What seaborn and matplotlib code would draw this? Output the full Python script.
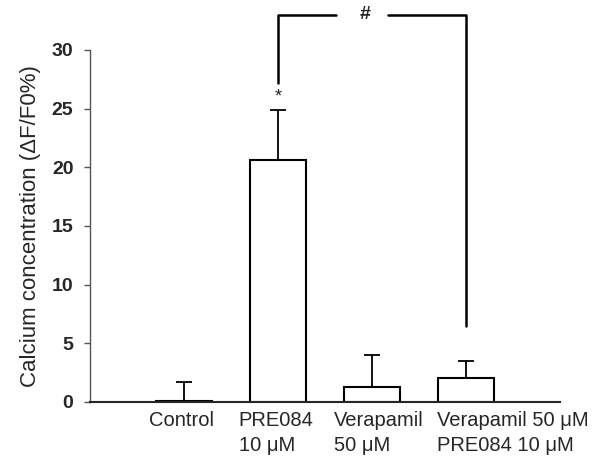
import numpy as np
import pandas as pd
import matplotlib.pyplot as plt
import seaborn as sns

# values
groups = ['Control', 'PRE084\n10 μM', 'Verapamil\n50 μM', 'Verapamil 50 μM\nPRE084 10 μM']
means = [0.1, 20.6, 1.3, 2.0]
errors = [1.6, 4.3, 2.7, 1.5]
y_ticks = [0, 5, 10, 15, 20, 25, 30]

df = pd.DataFrame({'Group': groups, 'Mean': means})

sns.set_style('ticks')
plt.rcParams['font.family'] = ['Liberation Sans', 'DejaVu Sans']

fig = plt.figure(figsize=(6.13, 4.62), dpi=100)
ax = fig.add_axes([0.147, 0.13, 0.766, 0.762])

sns.barplot(data=df, x='Group', y='Mean', color='white', edgecolor='black',
            linewidth=1.5, width=0.6, ax=ax)
xs = np.arange(len(groups))
ax.errorbar(xs, means, yerr=[np.zeros(len(errors)), errors], fmt='none',
            ecolor='black', elinewidth=1.3, capsize=6, capthick=1.3)

ax.set_xlim(-1, 4)
ax.set_ylim(0, 30)
ax.set_yticks(y_ticks)
ax.set_yticklabels([str(t) for t in y_ticks], fontweight='bold', fontsize=14)
ax.set_xticks([])
ax.set_xlabel('')
ax.set_ylabel('Calcium concentration (ΔF/F0%)', fontsize=16, labelpad=8)
sns.despine(ax=ax, top=True, right=True)
ax.spines['left'].set_color('#555555')
ax.spines['left'].set_linewidth(1.0)
ax.spines['bottom'].set_linewidth(1.5)
ax.tick_params(axis='y', length=4, width=1, color='#555555', pad=8)

# category labels under the axis
offsets = [-0.03, -0.02, 0.07]
for i, lab in enumerate(groups):
    if i < 3:
        ax.text(xs[i] + offsets[i], -0.8, lab, ha='center', va='top',
                multialignment='left', fontsize=14.5, linespacing=1.4)
    else:
        ax.text(xs[i] - 0.31, -0.8, lab, ha='left', va='top',
                multialignment='left', fontsize=14.5, linespacing=1.4)

# significance markers
ax.text(1, 25.3, '*', ha='center', va='bottom', fontsize=13)
br_y = 33.0
ax.plot([1, 1, 1.62], [27.2, br_y, br_y], color='black', lw=1.8, clip_on=False)
ax.plot([2.17, 3, 3], [br_y, br_y, 6.5], color='black', lw=1.8, clip_on=False)
ax.text(1.93, br_y, '#', ha='center', va='center', fontsize=14, fontweight='bold')

fig.savefig('out.png', dpi=100)
